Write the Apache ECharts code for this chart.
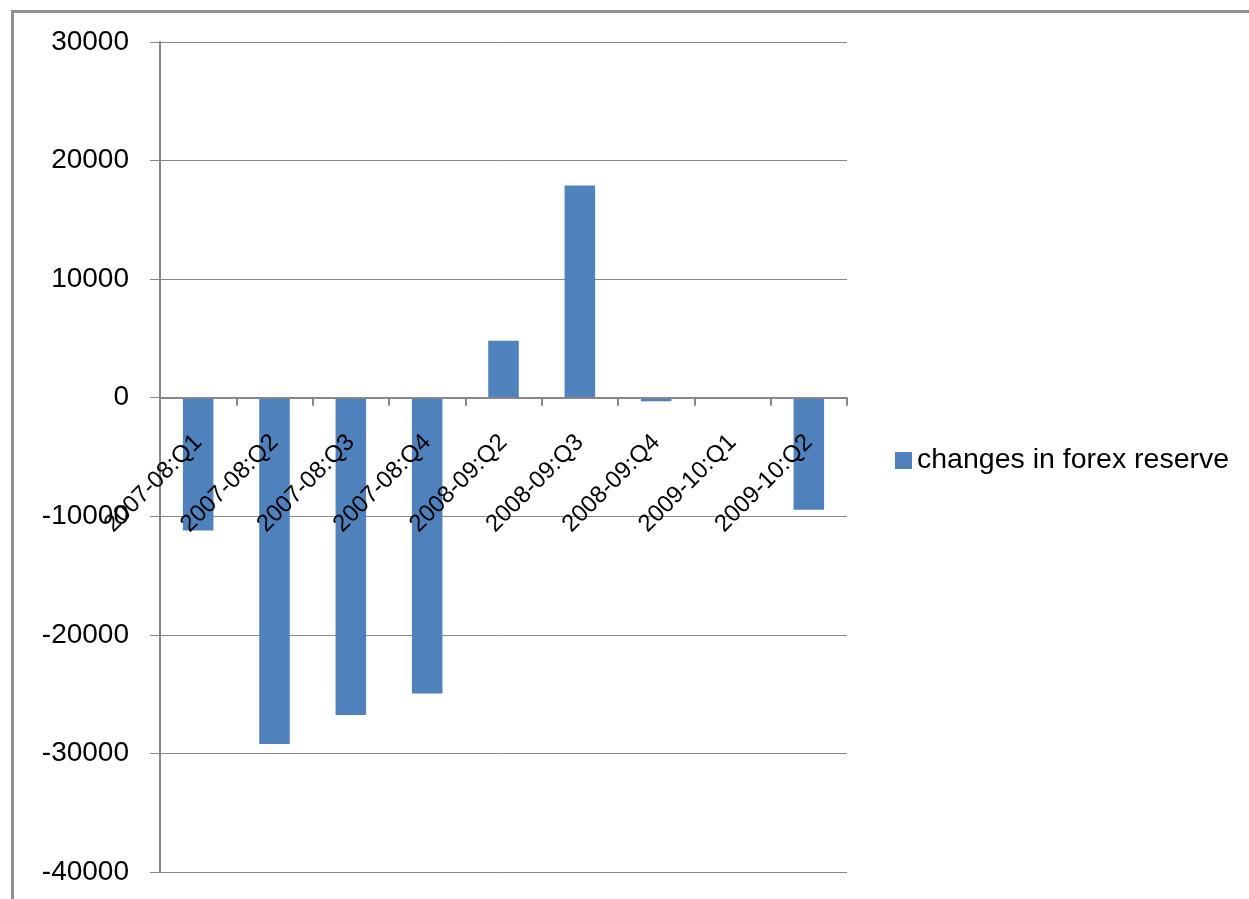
<!DOCTYPE html>
<html>
<head>
<meta charset="utf-8">
<script src="https://cdn.jsdelivr.net/npm/echarts@6/dist/echarts.min.js"></script>
<style>
  html, body { margin: 0; padding: 0; background: #fff; }
  #chart { width: 1249px; height: 899px; }
</style>
</head>
<body>
<div id="chart"></div>
<script>
// Quarterly changes in foreign exchange reserves
const quarters = [
  '2007-08:Q1', '2007-08:Q2', '2007-08:Q3', '2007-08:Q4',
  '2008-09:Q2', '2008-09:Q3', '2008-09:Q4', '2009-10:Q1', '2009-10:Q2'
];
const reserveChanges = [-11200, -29200, -26750, -24950, 4800, 17900, -300, -80, -9450];
const seriesName = 'changes in forex reserve';

const yMin = -40000;
const yMax = 30000;
const yStep = 10000;

const gray = '#878787';
const font = '"Liberation Sans", Arial, sans-serif';

const chart = echarts.init(document.getElementById('chart'), null, { renderer: 'canvas' });
chart.setOption({
  animation: false,
  backgroundColor: '#ffffff',
  graphic: [{
    type: 'rect',
    left: 10, top: 9,
    shape: { width: 1400, height: 1000 },
    style: { fill: 'none', stroke: '#8f8f8f', lineWidth: 3 },
    silent: true
  }],
  grid: {
    left: 160, top: 42, right: 402, bottom: 27,
    containLabel: false, outerBoundsMode: 'none'
  },
  legend: {
    orient: 'vertical',
    left: 890, top: 441,
    icon: 'rect',
    itemWidth: 17, itemHeight: 17,
    itemGap: 10,
    textStyle: { fontFamily: font, fontSize: 28.5, color: '#000' },
    data: [seriesName]
  },
  xAxis: {
    type: 'category',
    position: 'bottom',
    offset: 0,
    z: 5,
    data: quarters,
    axisLine: { onZero: false, lineStyle: { color: gray, width: 2 } },
    axisTick: { show: true, length: 8, alignWithLabel: false, lineStyle: { color: gray, width: 2 } },
    axisLabel: {
      interval: 0, rotate: 45, margin: 41, hideOverlap: false,
      fontFamily: font, fontSize: 24, color: '#000'
    },
    splitLine: { show: false }
  },
  yAxis: {
    type: 'value',
    min: yMin, max: yMax, interval: yStep,
    axisLine: { show: true, lineStyle: { color: gray, width: 2 } },
    axisTick: { show: true, length: 10, lineStyle: { color: gray, width: 1 } },
    axisLabel: { margin: 31, fontFamily: font, fontSize: 28, color: '#000', formatter: v => String(v) },
    splitLine: { show: true, lineStyle: { color: gray, width: 1 } }
  },
  series: [{
    name: seriesName,
    type: 'bar',
    z: 2,
    data: reserveChanges,
    barWidth: '40%',
    itemStyle: { color: '#4F81BD' }
  }]
});

// Lift the category axis (line, ticks and labels) up to the zero line of the value scale
const zeroY = chart.convertToPixel({ yAxisIndex: 0 }, 0);
const bottomY = chart.convertToPixel({ yAxisIndex: 0 }, yMin);
chart.setOption({ xAxis: { offset: -(bottomY - zeroY) } });
</script>
</body>
</html>
